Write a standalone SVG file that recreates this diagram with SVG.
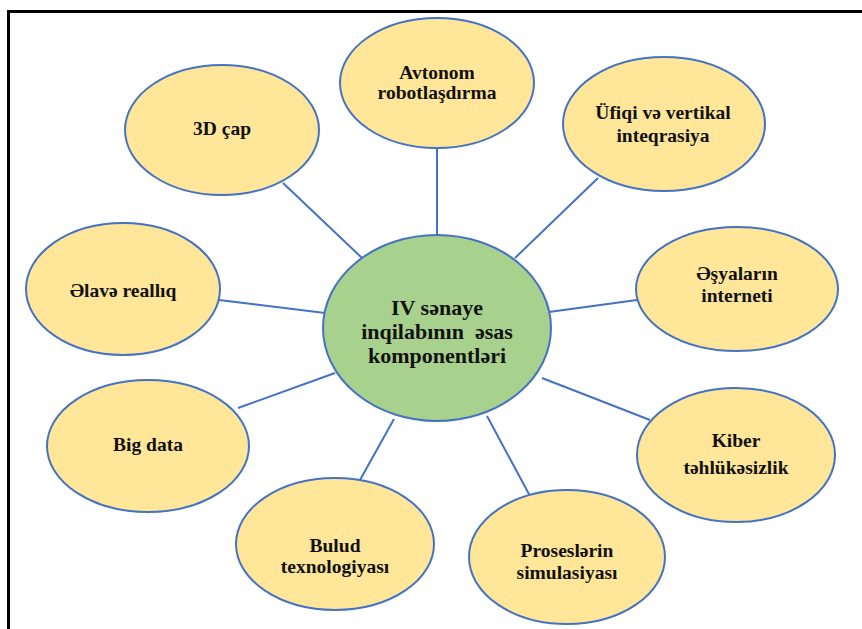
<svg xmlns="http://www.w3.org/2000/svg" width="862" height="629" viewBox="0 0 862 629">
<style>
.n{fill:#FFE699;stroke:#4472C4;stroke-width:2}
.c{fill:#A9D18E;stroke:#4472C4;stroke-width:2}
.t{font-family:"Liberation Serif","Times New Roman",serif;font-weight:bold;font-size:19.5px;fill:#111;text-anchor:middle}
.tc{font-family:"Liberation Serif","Times New Roman",serif;font-weight:bold;font-size:22px;fill:#111;text-anchor:middle;white-space:pre}
#edges line{stroke:#4472C4;stroke-width:2}
</style>
<rect width="862" height="629" fill="#fff"/>
<path d="M8.5,629 V11.5 H862" fill="none" stroke="#000" stroke-width="3"/>
<g id="edges">
<line x1="283" y1="183" x2="362" y2="258"/>
<line x1="437" y1="148" x2="437" y2="236"/>
<line x1="598" y1="178" x2="515" y2="258"/>
<line x1="637" y1="300" x2="549" y2="312"/>
<line x1="650" y1="420" x2="542" y2="378"/>
<line x1="530" y1="496" x2="487" y2="416"/>
<line x1="360" y1="480" x2="394" y2="419"/>
<line x1="238" y1="408" x2="335" y2="373"/>
<line x1="219" y1="300" x2="325" y2="313"/>
</g>
<g id="center"><ellipse class="c" cx="437" cy="328" rx="114" ry="93"/>
<text class="tc" x="437" y="315">IV sənaye</text>
<text class="tc" x="437" y="339">inqilabının  əsas</text>
<text class="tc" x="437" y="363">komponentləri</text></g>
<g id="n-avtonom"><ellipse class="n" cx="437" cy="83" rx="97" ry="65"/>
<text class="t" x="437" y="79">Avtonom</text><text class="t" x="437" y="99">robotlaşdırma</text></g>
<g id="n-3d"><ellipse class="n" cx="222" cy="130" rx="97" ry="65"/>
<text class="t" x="222" y="135">3D çap</text></g>
<g id="n-ufiqi"><ellipse class="n" cx="664" cy="124" rx="101" ry="67"/>
<text class="t" x="663" y="119">Üfiqi və vertikal</text><text class="t" x="663" y="142">inteqrasiya</text></g>
<g id="n-esya"><ellipse class="n" cx="737" cy="289" rx="101" ry="62"/>
<text class="t" x="737" y="280">Əşyaların</text><text class="t" x="737" y="302">interneti</text></g>
<g id="n-kiber"><ellipse class="n" cx="736" cy="455" rx="99" ry="67"/>
<text class="t" x="736" y="447">Kiber</text><text class="t" x="736" y="474">təhlükəsizlik</text></g>
<g id="n-proses"><ellipse class="n" cx="567" cy="557" rx="98" ry="67"/>
<text class="t" x="567" y="557">Proseslərin</text><text class="t" x="567" y="579">simulasiyası</text></g>
<g id="n-bulud"><ellipse class="n" cx="335" cy="544" rx="99" ry="66"/>
<text class="t" x="335" y="552">Bulud</text><text class="t" x="335" y="573">texnologiyası</text></g>
<g id="n-bigdata"><ellipse class="n" cx="148" cy="446" rx="101" ry="66"/>
<text class="t" x="148" y="451">Big data</text></g>
<g id="n-elave"><ellipse class="n" cx="123" cy="289" rx="97" ry="66"/>
<text class="t" x="123" y="297">Əlavə reallıq</text></g>
</svg>
